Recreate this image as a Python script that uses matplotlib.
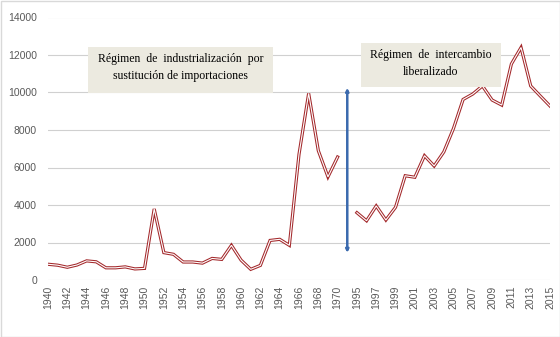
import numpy as np
import matplotlib
matplotlib.use("Agg")
import matplotlib.pyplot as plt
from matplotlib.patches import Rectangle

# periods shown on the category axis (one empty slot between them)
years_1 = list(range(1940, 1971))
years_2 = list(range(1995, 2016))
categories = [str(y) for y in years_1] + [""] + [str(y) for y in years_2]

values_1 = [840, 790, 680, 800, 1020, 970, 650, 650, 700, 590, 620,
            3790, 1460, 1370, 960, 960, 900, 1150, 1100, 1850, 1060,
            570, 780, 2110, 2170, 1850, 6700, 9950, 6900, 5500, 6560]
values_2 = [3590, 3160, 3950, 3200, 3880, 5560, 5480, 6630, 6080, 6830,
            8080, 9630, 9920, 10350, 9600, 9330, 11520, 12400, 10350, 9810, 9280]

values = np.array(values_1 + [np.nan] + values_2, dtype=float)
x = np.arange(len(categories))

fig = plt.figure(figsize=(5.6, 3.37), dpi=100)
ax = fig.add_axes([48 / 560, 57 / 337, 502 / 560, 262.5 / 337])

# double line: dark red outline, white core
ax.plot(x, values, color="#a3282b", lw=2.3, solid_joinstyle="miter", zorder=3)
ax.plot(x, values, color="white", lw=0.8, solid_joinstyle="miter", zorder=4)

ax.set_xlim(0, len(categories) - 1)
ax.set_ylim(0, 14000)
ax.set_yticks(np.arange(0, 14001, 2000))
ax.set_xticks(x[::2])
ax.set_xticklabels([categories[i] for i in x[::2]], rotation=90)
ax.tick_params(axis="both", length=0, labelsize=7.5, labelcolor="#595959")
ax.tick_params(axis="y", pad=8)
ax.tick_params(axis="x", pad=4)
for lab in ax.get_xticklabels() + ax.get_yticklabels():
    lab.set_family("Liberation Sans")
ax.grid(axis="y", color="#d0d0d0", lw=0.8)
ax.set_axisbelow(True)
for s in ax.spines.values():
    s.set_visible(False)

# vertical double arrow between the two regimes
ax.annotate("", xy=(31, 10250), xytext=(31, 1450),
            arrowprops=dict(arrowstyle="<|-|>", color="#3b6aae", lw=1.8,
                            mutation_scale=4, shrinkA=0, shrinkB=0), zorder=5)

# text boxes
def note(x0, y0, x1, y1, lines, ys):
    fig.patches.append(Rectangle((x0 / 560, 1 - y1 / 337), (x1 - x0) / 560, (y1 - y0) / 337,
                                 transform=fig.transFigure, facecolor="#eceae0",
                                 edgecolor="none", zorder=6))
    for t, yy in zip(lines, ys):
        fig.text((x0 + x1) / 2 / 560, 1 - yy / 337, t, ha="center", va="center",
                 family="Liberation Serif", fontsize=8.5, color="black", zorder=7)

note(88, 47, 273, 93, ["Régimen  de  industrialización  por",
                       "sustitución de importaciones"], [59, 76])
note(361, 43, 501, 87, ["Régimen  de  intercambio", "liberalizado"], [55, 72])

# chart border
fig.patches.append(Rectangle((0.5 / 560, 0.5 / 337), 559 / 560, 336 / 337,
                             transform=fig.transFigure, facecolor="none",
                             edgecolor="#d9d9d9", lw=1))

fig.savefig("out.png", dpi=100)
